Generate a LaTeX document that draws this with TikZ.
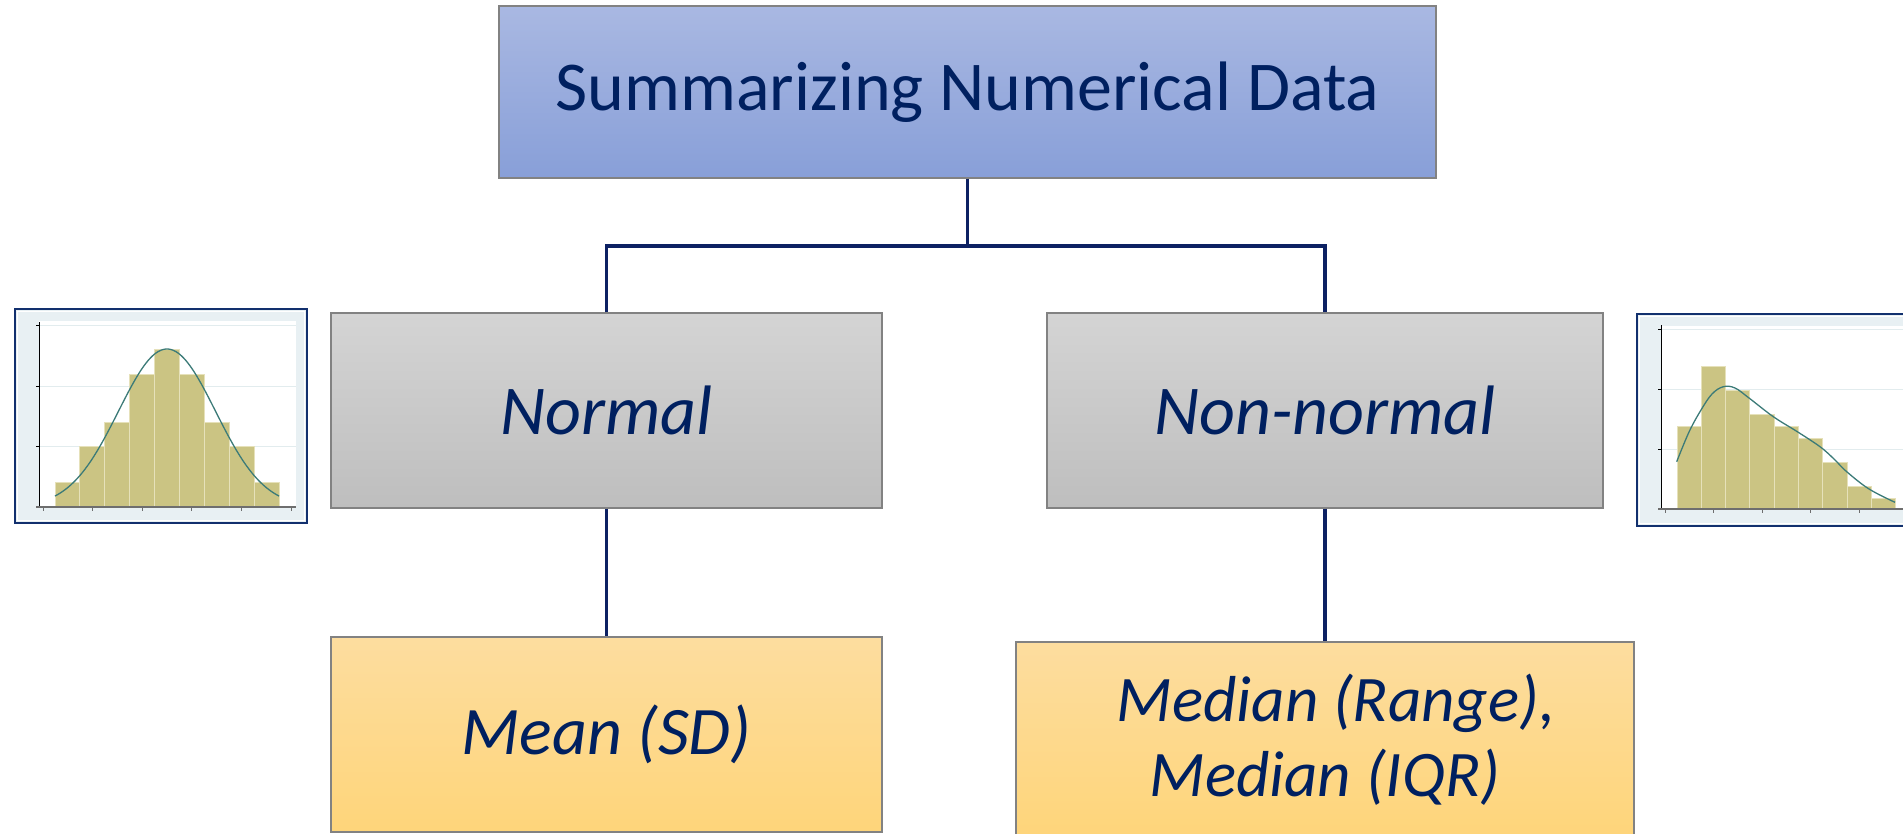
\documentclass[tikz,border=0pt]{standalone}
\usepackage{fontspec}
\setmainfont{Carlito}

\definecolor{ink}{HTML}{002060}
\definecolor{linkblue}{HTML}{0D2163}
\definecolor{boxedge}{HTML}{828282}
\definecolor{blueTop}{HTML}{A9B8E2}
\definecolor{blueBot}{HTML}{889FD8}
\definecolor{greyTop}{HTML}{D4D4D4}
\definecolor{greyBot}{HTML}{BEBEBE}
\definecolor{goldTop}{HTML}{FDDD9F}
\definecolor{goldBot}{HTML}{FED57A}
\definecolor{framenavy}{HTML}{12306E}
\definecolor{framebg}{HTML}{E8F0F3}
\definecolor{gridc}{HTML}{E2ECEE}
\definecolor{barfill}{HTML}{CBC483}
\definecolor{baredge}{HTML}{E6E1BA}
\definecolor{curvec}{HTML}{3C7B78}
\definecolor{xaxisc}{HTML}{6E6E6E}

\tikzset{
  box/.style={rectangle, draw=boxedge, line width=1.2pt, inner sep=0pt,
    text=ink, align=center},
  topbox/.style={box, top color=blueTop, bottom color=blueBot,
    minimum width=937pt, minimum height=172pt,
    font=\fontsize{70}{75}\selectfont},
  greybox/.style={box, top color=greyTop, bottom color=greyBot,
    minimum height=195pt, font=\fontsize{70}{75}\selectfont\itshape},
  goldbox/.style={box, top color=goldTop, bottom color=goldBot,
    minimum height=195pt, font=\itshape},
  link/.style={draw=linkblue, line width=3.1pt},
  histframe/.style={fill=framebg, draw=framenavy, line width=2.6pt},
  gridline/.style={draw=gridc, line width=1pt},
  yaxis/.style={draw=black, line width=1pt},
  xaxis/.style={draw=xaxisc, line width=1.6pt},
  bar/.style={fill=barfill, draw=baredge, line width=0.9pt},
  density/.style={draw=curvec, line width=1.3pt},
}

\begin{document}
\begin{tikzpicture}[x=1pt, y=-1pt]
\useasboundingbox (0,0) rectangle (1903,833);
\clip (0,0) rectangle (1903,833);
\fill[white] (0,0) rectangle (1903,833);

% ---- tree of boxes ----
\node[topbox] (top) at (967.5,92) {Summarizing Numerical Data};
\node[greybox, minimum width=551pt] (normal) at (606.5,410.5) {Normal};
\node[greybox, minimum width=556pt] (nonnormal) at (1325,410.5) {Non-normal};
\node[goldbox, minimum width=551pt, font=\fontsize{68}{75}\selectfont\itshape]
  (mean) at (606.5,734.5) {Mean (SD)};
\node[goldbox, minimum width=618pt, font=\fontsize{65}{75}\selectfont\itshape]
  (median) at (1325,739.5) {\hspace*{22pt}Median (Range),\\Median (IQR)};

% ---- connectors ----
\coordinate (split) at (967.5,246);
\draw[link] (top.south) -- (split);
\draw[link] (normal.north) |- (split) -| (nonnormal.north);
\draw[link] (normal.south) -- (mean.north);
\draw[link] (nonnormal.south) -- (median.north);

% ---- symmetric histogram with normal curve ----
\begin{scope}[shift={(15,309)}]
  \draw[histframe] (0,0) rectangle (292,214);
  \draw[white, line width=1.2pt] (2.6,2.6) rectangle (289.4,211.4);
  \fill[white] (24,12) rectangle (281,198);
  \foreach \y in {16.5,77,137.5}
    \draw[gridline] (24,\y) -- (281,\y);
  \foreach \h [count=\i from 0] in {25,61,85,133,158,133,85,61,25}
    \draw[bar] ({40+\i*24.9},198) rectangle ++(24.9,-\h);
  \draw[density] plot[domain=40:264, samples=90, smooth]
    (\x, {198-158*exp(-((\x-152)^2)/4704)});
  \draw[yaxis] (24,13) -- (24,198);
  \foreach \y in {16.5,77,137.5,198}
    \draw[yaxis] (21,\y) -- (24,\y);
  \draw[xaxis] (21,198) -- (281,198);
  \foreach \x in {28,77.6,127.2,176.8,226.4,276}
    \draw[xaxis, line width=1pt] (\x,198) -- (\x,201.5);
\end{scope}

% ---- right-skewed histogram with density curve ----
\begin{scope}[shift={(1637,314)}]
  \draw[histframe] (0,0) rectangle (300,212);
  \draw[white, line width=1.2pt] (2.6,2.6) rectangle (297.4,209.4);
  \fill[white] (24,12) rectangle (300,195);
  \foreach \y in {15,75,135}
    \draw[gridline] (24,\y) -- (300,\y);
  \foreach \h [count=\i from 0] in {83,143,119,95,83,71,47,23,11}
    \draw[bar] ({40+\i*24.3},195) rectangle ++(24.3,-\h);
  \draw[density] plot[smooth, tension=0.6] coordinates {
    (39.7,147.7) (52,118) (64,96) (75,80) (86.3,72.7) (98,74)
    (112,84) (136.3,102.7) (160,117.5) (183,132.7) (197,145)
    (209.7,157.7) (232,175) (258,188.3)};
  \draw[yaxis] (24,11) -- (24,195);
  \foreach \y in {15,75,135,195}
    \draw[yaxis] (21,\y) -- (24,\y);
  \draw[xaxis] (21,195) -- (300,195);
  \foreach \x in {28,76.5,125,173.5,222}
    \draw[xaxis, line width=1pt] (\x,195) -- (\x,198.5);
\end{scope}
\end{tikzpicture}
\end{document}
